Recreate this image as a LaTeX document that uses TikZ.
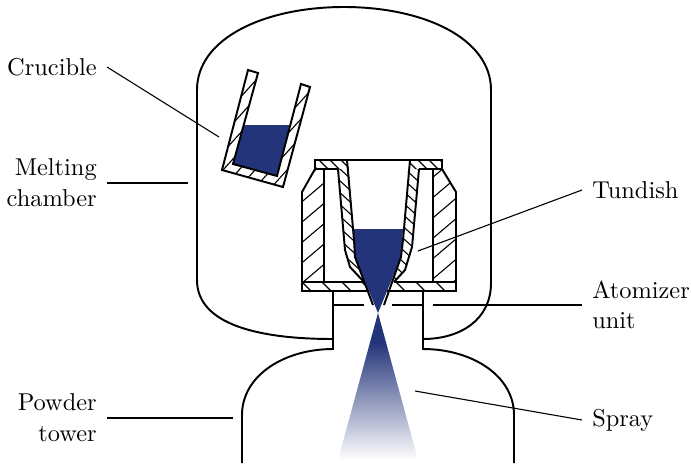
\documentclass[tikz,border=0pt]{standalone}
\usepackage{tikz}
\definecolor{meltblue}{HTML}{24347A}
\tikzset{
  wall/.style={line width=0.8pt,line join=miter},
  hatchline/.style={line width=0.45pt},
  leader/.style={line width=0.45pt},
  lbl/.style={inner sep=4pt,align=#1,execute at begin node={\setlength{\baselineskip}{12.6pt}}},
  lbl/.default=left
}
% hatch a closed region: [phase], path, spacing, run per unit height
\newcommand{\hatchregion}[4][0]{%
  \begin{scope}
    \clip #2;
    \foreach \i in {0,...,180}
      \draw[hatchline] ({-600+#1+\i*#3},0) -- ++({470*(#4)},470);
  \end{scope}}
\begin{document}
\begin{tikzpicture}[x=0.41pt,y=-0.41pt]
  \useasboundingbox (0,0) rectangle (691,465);

  % Melting chamber
  \draw[wall] (333,339) .. controls (260,339) and (197,325) .. (197,280)
    -- (197,90) .. controls (197,38) and (265,7) .. (344,7)
    .. controls (423,7) and (491,38) .. (491,90)
    -- (491,283) .. controls (491,320) and (460,339) .. (423,339);

  % Neck and powder tower
  \draw[wall] (242,463) -- (242,415) .. controls (242,375) and (285,349) .. (333,349)
    -- (333,291);
  \draw[wall] (514,463) -- (514,415) .. controls (514,375) and (471,349) .. (423,349)
    -- (423,291);
  \draw[wall] (333,305) -- (364,305);
  \draw[wall] (392,305) -- (423,305);

  % Spray
  \fill[meltblue] (378,313) -- (386.2,343) -- (369.8,343) -- cycle;
  \begin{scope}
    \clip (378,313) -- (418,460) -- (338,460) -- cycle;
    \shade[top color=meltblue,bottom color=white] (330,342) rectangle (426,460);
  \end{scope}

  % Crucible
  \coordinate (C1) at (248,70);
  \coordinate (C2) at (258,73);
  \coordinate (C3) at (233,164);
  \coordinate (C4) at (277,176);
  \coordinate (C5) at (301,84);
  \coordinate (C6) at (310,87);
  \coordinate (C7) at (283,187);
  \coordinate (C8) at (222,170);
  \hatchregion{(C1) -- (C2) -- (C3) -- (C4) -- (C5) -- (C6) -- (C7) -- (C8) -- cycle}{16}{-0.9}
  \fill[meltblue] (244,125) -- (290,125) -- (C4) -- (C3) -- cycle;
  \draw[wall] (C1) -- (C2) -- (C3) -- (C4) -- (C5) -- (C6) -- (C7) -- (C8) -- cycle;

  % Tundish melt
  \fill[meltblue] (354,229) -- (403,229) -- (401,257) -- (378,313) -- (355,257) -- cycle;

  % Tundish hatching
  \hatchregion[12]{(315,169) -- (324,169) -- (324,282) -- (302,282) -- (302,192) -- cycle}{24}{-1.18}
  \hatchregion[18]{(442,169) -- (433,169) -- (433,282) -- (456,282) -- (456,192) -- cycle}{24}{-1.18}
  \hatchregion{(315,160) -- (347,160) -- (349,169) -- (315,169) -- cycle}{11}{1}
  \hatchregion{(442,160) -- (410,160) -- (408,169) -- (442,169) -- cycle}{11}{1}
  \hatchregion{(338,169) -- (349,169) -- (354,240) -- (355,257) -- (365,282) -- (364,282) -- (350,267) -- (345,250) -- cycle}{13}{1.1}
  \hatchregion{(419,169) -- (408,169) -- (403,240) -- (401,257) -- (392,282) -- (394,282) -- (405,270) -- (412,247) -- cycle}{13}{1.1}
  \hatchregion{(302,282) -- (365,282) -- (369,291) -- (302,291) -- cycle}{20}{1}
  \hatchregion[14]{(456,282) -- (392,282) -- (387,291) -- (456,291) -- cycle}{20}{1}

  % Tundish outlines
  \draw[wall] (338,169) -- (315,169) -- (315,160) -- (442,160) -- (442,169) -- (419,169);
  \draw[wall] (315,169) -- (302,192) -- (302,291) -- (369,291);
  \draw[wall] (442,169) -- (456,192) -- (456,291) -- (387,291);
  \draw[wall] (302,282) -- (364,282);
  \draw[wall] (394,282) -- (456,282);
  \draw[wall] (324,169) -- (324,282);
  \draw[wall] (433,169) -- (433,282);
  \draw[wall] (338,169) -- (345,250) -- (350,267) -- (364,282);
  \draw[wall] (419,169) -- (412,247) -- (405,270) -- (394,282);
  \draw[wall] (347,160) -- (354,240) -- (355,257) -- (373,305);
  \draw[wall] (410,160) -- (403,240) -- (401,257) -- (384,305);

  % Labels
  \node[lbl,anchor=east] (crucible) at (107,67) {Crucible};
  \node[lbl=right,anchor=east] (chamber) at (107,183) {Melting\\chamber};
  \node[lbl=right,anchor=east] (tower) at (107,418) {Powder\\tower};
  \node[lbl,anchor=west] (tundish) at (582,190) {Tundish};
  \node[lbl,anchor=west] (atomizer) at (582,305) {Atomizer\\unit};
  \node[lbl,anchor=west] (spray) at (582,420) {Spray};

  % Leader ends
  \coordinate (crucibleEnd) at (219,137);
  \coordinate (chamberEnd) at (188,183);
  \coordinate (towerEnd) at (233,418);
  \coordinate (tundishEnd) at (418,251);
  \coordinate (atomizerEnd) at (433,305);
  \coordinate (sprayEnd) at (415,391);

  \draw[leader] (crucible.east) -- (crucibleEnd);
  \draw[leader] (chamber.east) -- (chamberEnd);
  \draw[leader] (tower.east) -- (towerEnd);
  \draw[leader] (tundish.west) -- (tundishEnd);
  \draw[leader] (atomizer.west) -- (atomizerEnd);
  \draw[leader] (spray.west) -- (sprayEnd);
\end{tikzpicture}
\end{document}
